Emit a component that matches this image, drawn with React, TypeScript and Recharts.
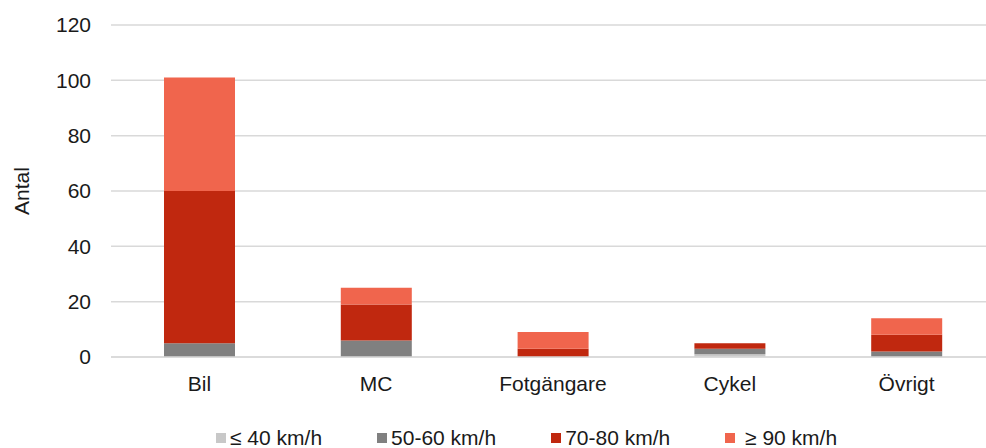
import { Bar, BarChart, CartesianGrid, Legend, XAxis, YAxis } from 'recharts';

const categories = ['Bil', 'MC', 'Fotgängare', 'Cykel', 'Övrigt'];

// counts per speed limit band
const upTo40 = [0, 0, 0, 1, 0];
const from50to60 = [5, 6, 0, 2, 2];
const from70to80 = [55, 13, 3, 2, 6];
const from90 = [41, 6, 6, 0, 6];

const yTicks = [0, 20, 40, 60, 80, 100, 120];

const series = [
    { key: 'upTo40', name: '≤ 40 km/h', color: '#c8c8c8', values: upTo40 },
    { key: 'from50to60', name: '50-60 km/h', color: '#808080', values: from50to60 },
    { key: 'from70to80', name: '70-80 km/h', color: '#c0280f', values: from70to80 },
    { key: 'from90', name: ' ≥ 90 km/h', color: '#f0654d', values: from90 },
];

const data = categories.map((name, i) => {
    const row: Record<string, string | number> = { name };
    series.forEach((s) => {
        row[s.key] = s.values[i];
    });
    return row;
});

const FONT = '"Liberation Sans", Arial, sans-serif';
const TEXT = '#1a1a1a';
const FONT_SIZE = 21;

function LegendContent() {
    return (
        <div
            style={{
                display: 'flex',
                paddingLeft: 216,
                fontFamily: FONT,
                fontSize: FONT_SIZE,
                color: TEXT,
                lineHeight: '24px',
            }}
        >
            {series.map((s) => (
                <div
                    key={s.key}
                    style={{ display: 'flex', alignItems: 'center', marginRight: 55 }}
                >
                    <span
                        style={{
                            display: 'inline-block',
                            width: 10,
                            height: 10,
                            background: s.color,
                            marginRight: 4,
                        }}
                    />
                    <span style={{ whiteSpace: 'pre' }}>{s.name}</span>
                </div>
            ))}
        </div>
    );
}

export default function App() {
    return (
        <div
            style={{
                position: 'fixed',
                left: 0,
                top: 0,
                width: 986,
                height: 448,
                overflow: 'hidden',
                background: '#fff',
            }}
        >
            <BarChart
                width={986}
                height={448}
                data={data}
                margin={{ top: 25, right: -9, left: 0, bottom: 27 }}
                style={{ fontFamily: FONT }}
            >
                <CartesianGrid
                    vertical={false}
                    stroke="#d9d9d9"
                    strokeWidth={1.5}
                />
                <XAxis
                    dataKey="name"
                    height={40}
                    axisLine={{ stroke: '#d9d9d9', strokeWidth: 1.5 }}
                    tickLine={false}
                    tickSize={0}
                    tickMargin={19}
                    tick={{ fill: TEXT, fontSize: FONT_SIZE }}
                />
                <YAxis
                    width={111}
                    domain={[0, 120]}
                    ticks={yTicks}
                    axisLine={false}
                    tickLine={false}
                    tickSize={0}
                    tickMargin={20}
                    tick={{ fill: TEXT, fontSize: FONT_SIZE }}
                    label={{
                        content: ({ viewBox }: any) => {
                            const cy = viewBox.y + viewBox.height / 2;
                            return (
                                <text
                                    x={21}
                                    y={cy}
                                    transform={`rotate(-90, 21, ${cy})`}
                                    textAnchor="middle"
                                    dominantBaseline="central"
                                    fill={TEXT}
                                    fontSize={FONT_SIZE}
                                >
                                    Antal
                                </text>
                            );
                        },
                    }}
                />
                <Legend
                    content={<LegendContent />}
                    wrapperStyle={{ top: 426, bottom: 'auto', left: 0, width: 986, height: 24 }}
                />
                {series.map((s) => (
                    <Bar
                        key={s.key}
                        dataKey={s.key}
                        name={s.name}
                        stackId="speed"
                        fill={s.color}
                        barSize={71}
                        isAnimationActive={false}
                    />
                ))}
            </BarChart>
        </div>
    );
}
